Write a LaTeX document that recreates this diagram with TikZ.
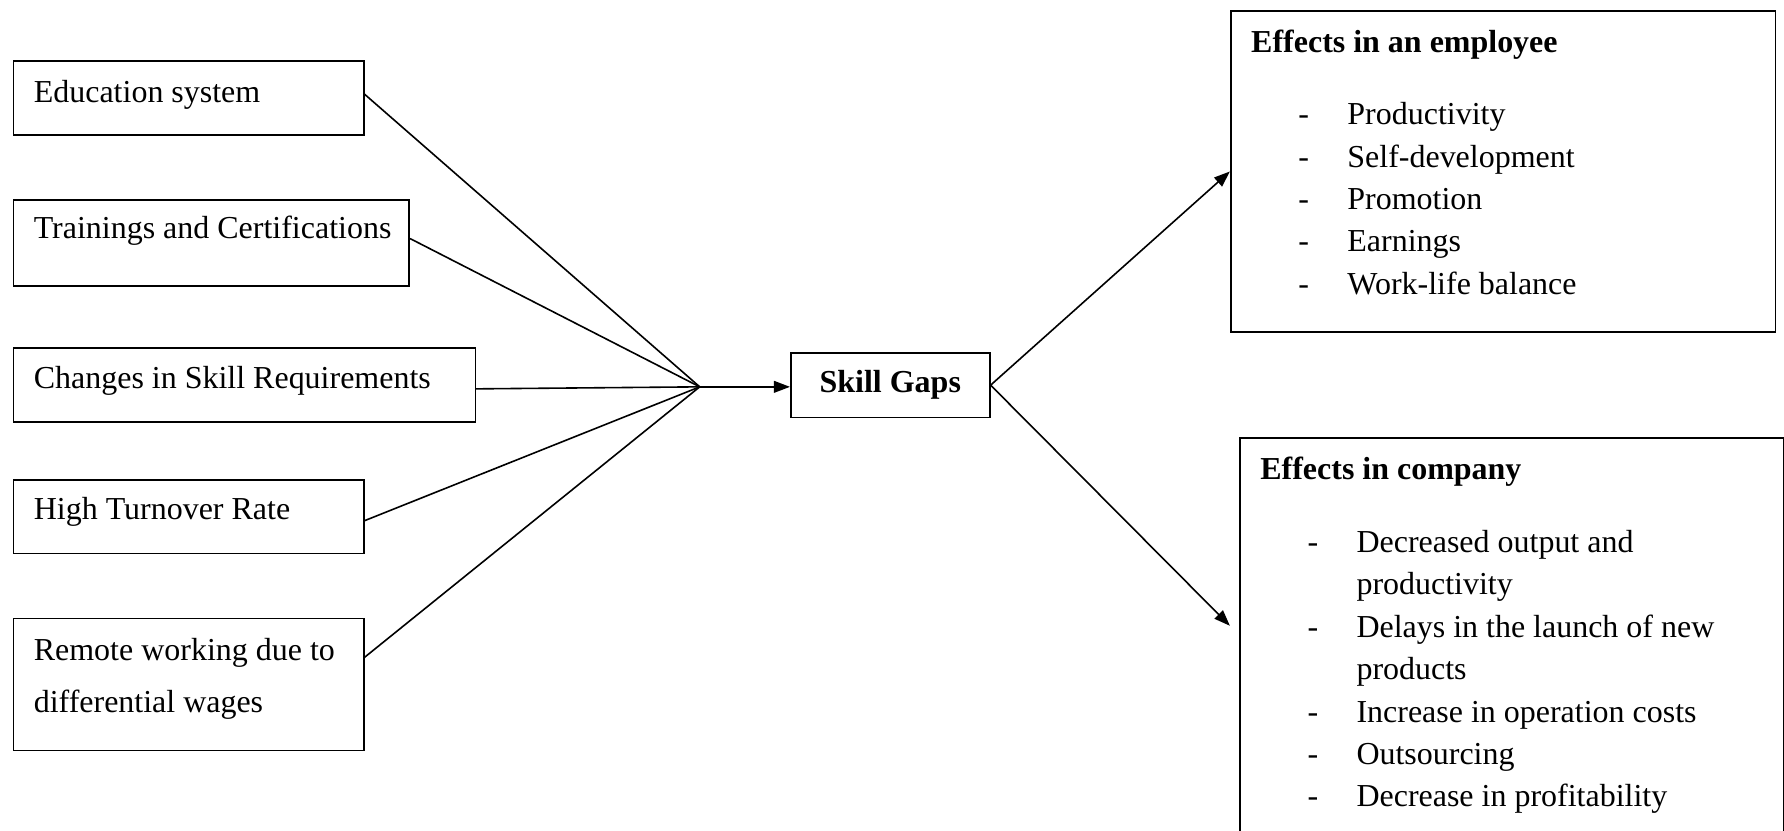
\documentclass[tikz,border=0pt]{standalone}
\usepackage{fontspec}
\setmainfont{Liberation Serif}
\usetikzlibrary{arrows.meta}
\newcommand{\dashitem}[1]{\hspace*{17.7pt}\makebox[18.4pt][l]{-}#1}
\newcommand{\dashcont}[1]{\hspace*{36.1pt}#1}

\begin{document}
\begin{tikzpicture}[x=0.427pt, y=-0.427pt,
  cause/.style={draw, line width=0.6pt, anchor=north west, align=left, inner xsep=7.7pt, inner ysep=0pt, text height=15.4pt,
    font=\fontsize{12pt}{15.9pt}\selectfont, execute at begin node={\spaceskip=0pt\xspaceskip=0pt\relax}},
  link/.style={line width=0.6pt},
  arrowlink/.style={line width=0.6pt, -{Triangle[length=6pt,width=4.4pt]}}]
\useasboundingbox (0,0) rectangle (1568,730);

% causes
\node[cause, text width=116.1pt, text depth=12.4pt] (edu) at (11,53) {Education system};
\node[cause, text width=133.2pt, text height=14.5pt, text depth=17.9pt] (train) at (11,175) {\mbox{Trainings and Certifications}};
\node[cause, text width=158.0pt, text depth=12.4pt] (change) at (11,305) {\mbox{Changes in Skill Requirements}};
\node[cause, text width=116.1pt, text height=14.9pt, text depth=12.8pt] (turn) at (11,421) {High Turnover Rate};
\node[cause, text width=116.1pt, text height=15.8pt, text depth=33.7pt] (remote) at (11,543) {\mbox{Remote working due to}\\[3.7pt]differential wages};

\node[draw, line width=0.6pt, minimum width=74.7pt, minimum height=24.3pt, inner sep=0pt, font=\bfseries\fontsize{12pt}{15.9pt}\selectfont] (gap) at (782.5,338.5) {Skill Gaps};

% effects
\node[cause, text width=189.1pt, text depth=105.0pt] (emp) at (1081,9) {
  \textbf{Effects in an employee}\\[11.4pt]
  \dashitem{Productivity}\\
  \dashitem{Self-development}\\
  \dashitem{Promotion}\\
  \dashitem{Earnings}\\
  \dashitem{Work-life balance}};
\node[cause, text width=188.7pt, text height=15.8pt, text depth=144.8pt] (comp) at (1089,384) {
  \textbf{Effects in company}\\[11.4pt]
  \dashitem{Decreased output and}\\
  \dashcont{productivity}\\
  \dashitem{Delays in the launch of new}\\
  \dashcont{products}\\
  \dashitem{Increase in operation costs}\\
  \dashitem{Outsourcing}\\
  \dashitem{Decrease in profitability}};

\coordinate (hub) at (615,340);
\foreach \n/\s in {edu/1.5pt, train/1.7pt, change/-1.5pt, turn/-1.5pt, remote/10.2pt}
  \draw[link] ([yshift=\s]\n.east) -- (hub);
\draw[arrowlink] (hub) -- (gap.west |- hub);
\draw[arrowlink] (gap.east) -- (emp.west);
\draw[arrowlink] (gap.east) -- ([shift={(-8,166)}]comp.north west);
\end{tikzpicture}
\end{document}
